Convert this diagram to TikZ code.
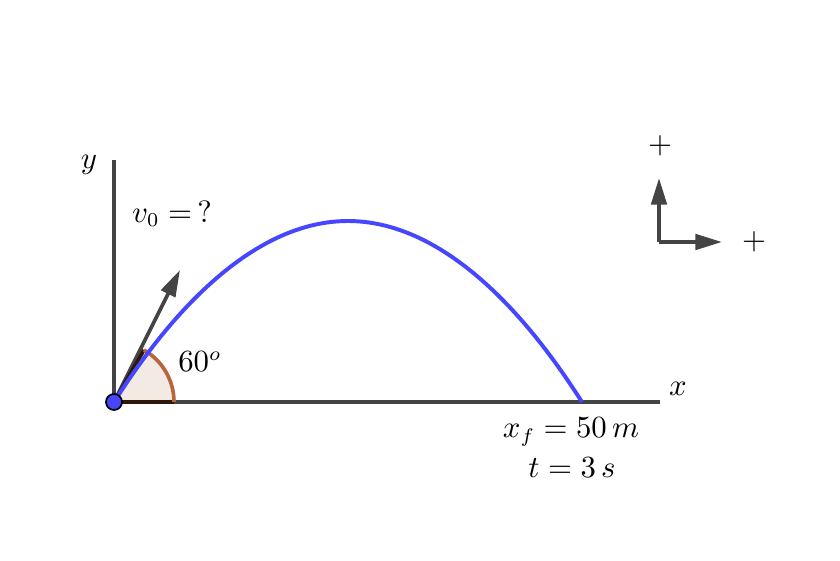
\documentclass[tikz,border=0pt]{standalone}
\usetikzlibrary{arrows.meta}
\definecolor{axisgray}{RGB}{68,68,68}
\definecolor{pathblue}{RGB}{70,70,255}
\definecolor{anglefill}{RGB}{244,234,228}
\definecolor{anglebrown}{RGB}{184,100,60}
\definecolor{angledark}{RGB}{45,22,12}
\tikzset{
  axisline/.style={line width=1.3pt, color=axisgray},
  vecarrow/.style={line width=1.3pt, color=axisgray, -{Triangle[length=9.5pt,width=5.5pt]}},
  lbl/.style={inner sep=1pt, font=\fontsize{10.5}{12}\selectfont}
}

\begin{document}
\begin{tikzpicture}[x=0.5cm,y=0.5cm]
			%%%%% START %%%%%
			\useasboundingbox (-2.85,-3.975) rectangle (18.15,10.05);
			
			\coordinate (O) at (0,0);
			\coordinate (ytop) at (0,6.05);
			\coordinate (xend) at (13.65,0);
			
			% angle sector
			\fill[anglefill] (O) -- (1.5,0) arc (0:60:1.5) -- cycle;
			
			% axes
			\draw[axisline] (O) -- (ytop);
			\draw[axisline] (O) -- (xend);
			\node[lbl] (ylab) at (-0.625,5.925) {$y$};
			\node[lbl] (xlab) at (14.1,0.325) {$x$};
			
			% initial velocity
			\draw[vecarrow] (O) -- (1.65,3.3);
			
			\draw[line width=1.3pt, color=angledark] (O) -- (1.5,0);
			\draw[line width=1.3pt, color=angledark] (O) -- (60:1.5);
			\draw[line width=1.3pt, color=anglebrown] (1.5,0) arc (0:60:1.5);
			
			% trajectory
			\draw[line width=1.4pt, color=pathblue] (O) parabola bend (5.85,4.525) (11.7,0);
			
			\draw[fill=pathblue, line width=0.6pt] (O) circle (0.2);
			
			\node[lbl] (ang) at (2.15,1.0) {$60^o$};
			\node[lbl] (vel) at (1.45,4.7) {$v_0 = \,?$};
			\node[lbl] (xf) at (11.425,-0.75) {$x_f = 50\,m$};
			\node[lbl] (tf) at (11.45,-1.65) {$t = 3\,s$};
			
			% sign convention
			\coordinate (S) at (13.625,4.0);
			\draw[vecarrow] (S) -- (13.625,5.6);
			\draw[vecarrow] (S) -- (15.2,4.0);
			\node[lbl] (pup) at (13.65,6.4) {$+$};
			\node[lbl] (pright) at (16.0,4.0) {$+$};
			
			%%%%% END %%%%%
\end{tikzpicture}
\end{document}
